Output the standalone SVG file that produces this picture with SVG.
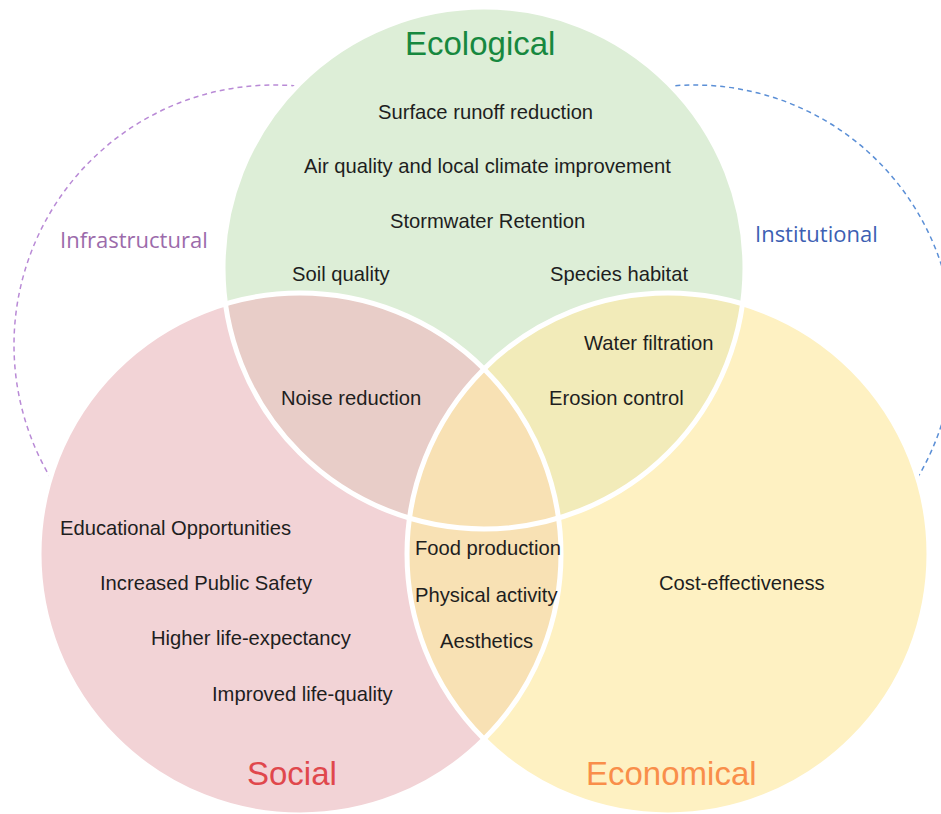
<svg xmlns="http://www.w3.org/2000/svg" width="941" height="814" viewBox="0 0 941 814">
  <style>
    .item { font-family: "Liberation Sans", Arial, sans-serif; font-size: 20.2px; fill: #1e1e1e; }
    .title { font-family: "Liberation Sans", Arial, sans-serif; font-size: 33px; }
    .side { font-family: "Open Sans", "Noto Sans", sans-serif; font-size: 22px; }
    .edge { fill: none; stroke: #ffffff; stroke-width: 5; }
    .dash { fill: none; stroke-width: 1.5; stroke-dasharray: 5 4; }
  </style>
  <defs>
    <circle id="c-eco" cx="484" cy="268" r="261"/>
    <circle id="c-soc" cx="300" cy="554" r="261"/>
    <circle id="c-econ" cx="668" cy="554" r="261"/>
    <clipPath id="clip-eco"><use href="#c-eco"/></clipPath>
    <clipPath id="clip-soc"><use href="#c-soc"/></clipPath>
  </defs>

  <rect width="941" height="814" fill="#ffffff"/>

  <!-- dashed outer domains -->
  <g id="infrastructural">
    <circle class="dash" cx="274" cy="345" r="260" stroke="#b98ad6"/>
  </g>
  <g id="institutional">
    <circle class="dash" cx="694" cy="345" r="260" stroke="#5b8fd6"/>
  </g>

  <!-- main sets -->
  <g id="ecological">
    <use href="#c-eco" fill="#ddeed7"/>
  </g>
  <g id="social">
    <use href="#c-soc" fill="#f2d3d6"/>
  </g>
  <g id="economical">
    <use href="#c-econ" fill="#fef1c2"/>
  </g>

  <!-- overlaps -->
  <g id="eco-social">
    <use href="#c-soc" fill="#e8cdc8" clip-path="url(#clip-eco)"/>
  </g>
  <g id="eco-econ">
    <use href="#c-econ" fill="#f2ebb9" clip-path="url(#clip-eco)"/>
  </g>
  <g id="social-econ">
    <use href="#c-econ" fill="#f8e1b4" clip-path="url(#clip-soc)"/>
  </g>

  <!-- white borders on every set -->
  <g id="borders">
    <use href="#c-eco" class="edge"/>
    <use href="#c-soc" class="edge"/>
    <use href="#c-econ" class="edge"/>
  </g>

  <!-- titles -->
  <text class="title" x="405" y="55" fill="#17883f">Ecological</text>
  <text class="title" x="247" y="785" fill="#e0474c">Social</text>
  <text class="title" x="586" y="785" fill="#f98e4a">Economical</text>
  <text class="side" x="60" y="248" fill="#9c6bab">Infrastructural</text>
  <text class="side" x="755" y="242" fill="#3d5fb3">Institutional</text>

  <!-- ecological -->
  <text class="item" x="378" y="119">Surface runoff reduction</text>
  <text class="item" x="304" y="173">Air quality and local climate improvement</text>
  <text class="item" x="390" y="228">Stormwater Retention</text>
  <text class="item" x="292" y="281">Soil quality</text>
  <text class="item" x="550" y="281">Species habitat</text>

  <!-- ecological + economical -->
  <text class="item" x="584" y="350">Water filtration</text>
  <text class="item" x="549" y="405">Erosion control</text>

  <!-- ecological + social -->
  <text class="item" x="281" y="405">Noise reduction</text>

  <!-- social -->
  <text class="item" x="60" y="535">Educational Opportunities</text>
  <text class="item" x="100" y="590">Increased Public Safety</text>
  <text class="item" x="151" y="645">Higher life-expectancy</text>
  <text class="item" x="212" y="701">Improved life-quality</text>

  <!-- social + economical -->
  <text class="item" x="415" y="555">Food production</text>
  <text class="item" x="415" y="602">Physical activity</text>
  <text class="item" x="440" y="648">Aesthetics</text>

  <!-- economical -->
  <text class="item" x="659" y="590">Cost-effectiveness</text>
</svg>
